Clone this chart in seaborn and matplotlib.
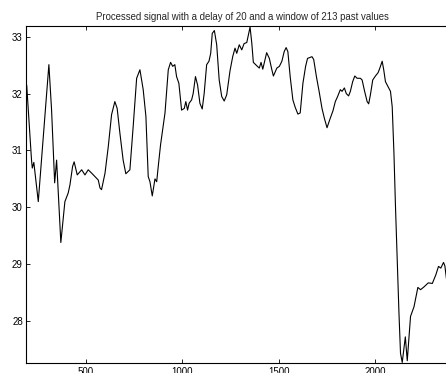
import pandas as pd
import seaborn as sns
import matplotlib
matplotlib.use("Agg")
import matplotlib.pyplot as plt

# sample index
sample = [193, 218, 222, 230, 253, 308, 322, 338, 348, 370, 391, 408, 417, 431, 439,
          455, 478, 495, 512, 530, 547, 564, 573, 581, 599, 616, 633, 650, 662, 676,
          693, 707, 728, 745, 763, 780, 797, 811, 823, 832, 844, 858, 867, 875, 887,
          910, 927, 939, 950, 961, 970, 982, 996, 1010, 1018, 1027, 1035, 1048, 1056,
          1068, 1079, 1091, 1103, 1113, 1126, 1138, 1147, 1155, 1166, 1178, 1191, 1204,
          1217, 1230, 1247, 1261, 1273, 1282, 1295, 1308, 1320, 1334, 1351, 1360, 1368,
          1386, 1399, 1408, 1417, 1437, 1451, 1464, 1472, 1490, 1503, 1516, 1528, 1538,
          1547, 1559, 1573, 1585, 1599, 1611, 1625, 1639, 1649, 1672, 1681, 1695, 1709,
          1724, 1736, 1750, 1764, 1781, 1793, 1805, 1819, 1828, 1840, 1850, 1862, 1871,
          1883, 1894, 1906, 1923, 1932, 1945, 1958, 1966, 1975, 1987, 2001, 2015, 2024,
          2036, 2044, 2053, 2065, 2079, 2088, 2097, 2105, 2114, 2123, 2131, 2140, 2156,
          2166, 2183, 2201, 2221, 2235, 2253, 2275, 2296, 2314, 2328, 2340, 2354, 2361,
          2370]

# processed signal values
signal = [32.15, 30.83, 30.69, 30.79, 30.10, 32.51, 31.71, 30.43, 30.83, 29.38, 30.10,
          30.25, 30.39, 30.72, 30.80, 30.57, 30.66, 30.57, 30.66, 30.60, 30.54, 30.48,
          30.34, 30.31, 30.60, 31.07, 31.63, 31.86, 31.74, 31.31, 30.83, 30.59, 30.66,
          31.42, 32.27, 32.42, 32.07, 31.60, 30.54, 30.45, 30.20, 30.50, 30.45, 30.72,
          31.10, 31.66, 32.42, 32.55, 32.48, 32.51, 32.30, 32.18, 31.71, 31.74, 31.86,
          31.71, 31.83, 31.89, 32.00, 32.30, 32.15, 31.83, 31.73, 32.00, 32.51, 32.57,
          32.71, 33.06, 33.11, 32.86, 32.24, 31.95, 31.87, 31.98, 32.40, 32.65, 32.80,
          32.71, 32.86, 32.77, 32.88, 32.90, 33.17, 32.89, 32.55, 32.49, 32.45, 32.55,
          32.43, 32.72, 32.62, 32.42, 32.31, 32.45, 32.48, 32.57, 32.74, 32.81, 32.74,
          32.30, 31.89, 31.76, 31.64, 31.66, 32.18, 32.48, 32.62, 32.65, 32.60, 32.30,
          32.04, 31.74, 31.57, 31.40, 31.54, 31.70, 31.86, 31.95, 32.07, 32.04, 32.10,
          32.00, 31.96, 32.04, 32.21, 32.31, 32.27, 32.27, 32.24, 32.04, 31.86, 31.82,
          31.98, 32.24, 32.31, 32.37, 32.45, 32.57, 32.42, 32.21, 32.13, 32.04, 31.77,
          30.95, 30.01, 29.07, 28.14, 27.43, 27.27, 27.72, 27.30, 28.08, 28.25, 28.59,
          28.55, 28.60, 28.67, 28.66, 28.81, 28.96, 28.93, 29.03, 28.97, 28.72]

x_ticks = [500, 1000, 1500, 2000]
y_ticks = [28, 29, 30, 31, 32, 33]

df = pd.DataFrame({"sample": sample, "signal": signal})

sns.set_style("ticks")
plt.rcParams["font.family"] = ["Liberation Sans", "DejaVu Sans"]

fig = plt.figure(figsize=(4.46, 3.73), dpi=100)
ax = fig.add_axes([0.059, 0.0268, 0.967, 0.9035])

sns.lineplot(data=df, x="sample", y="signal", color="black", linewidth=0.8, ax=ax)

ax.set_xlim(191, 2427)
ax.set_ylim(27.26, 33.19)
ax.set_xticks(x_ticks)
ax.set_yticks(y_ticks)
ax.tick_params(direction="in", top=True, right=True, length=3, width=0.6,
               labelsize=7, colors="black")
ax.tick_params(axis="x", pad=3)
ax.tick_params(axis="y", pad=2.5)
for s in ax.spines.values():
    s.set_linewidth(0.8)
    s.set_color("black")
ax.set_xlabel("")
ax.set_ylabel("")
ax.set_title("Processed signal with a delay of 20 and a window of 213 past values",
             fontsize=6.9, pad=4)

fig.savefig("out.png", dpi=100)
